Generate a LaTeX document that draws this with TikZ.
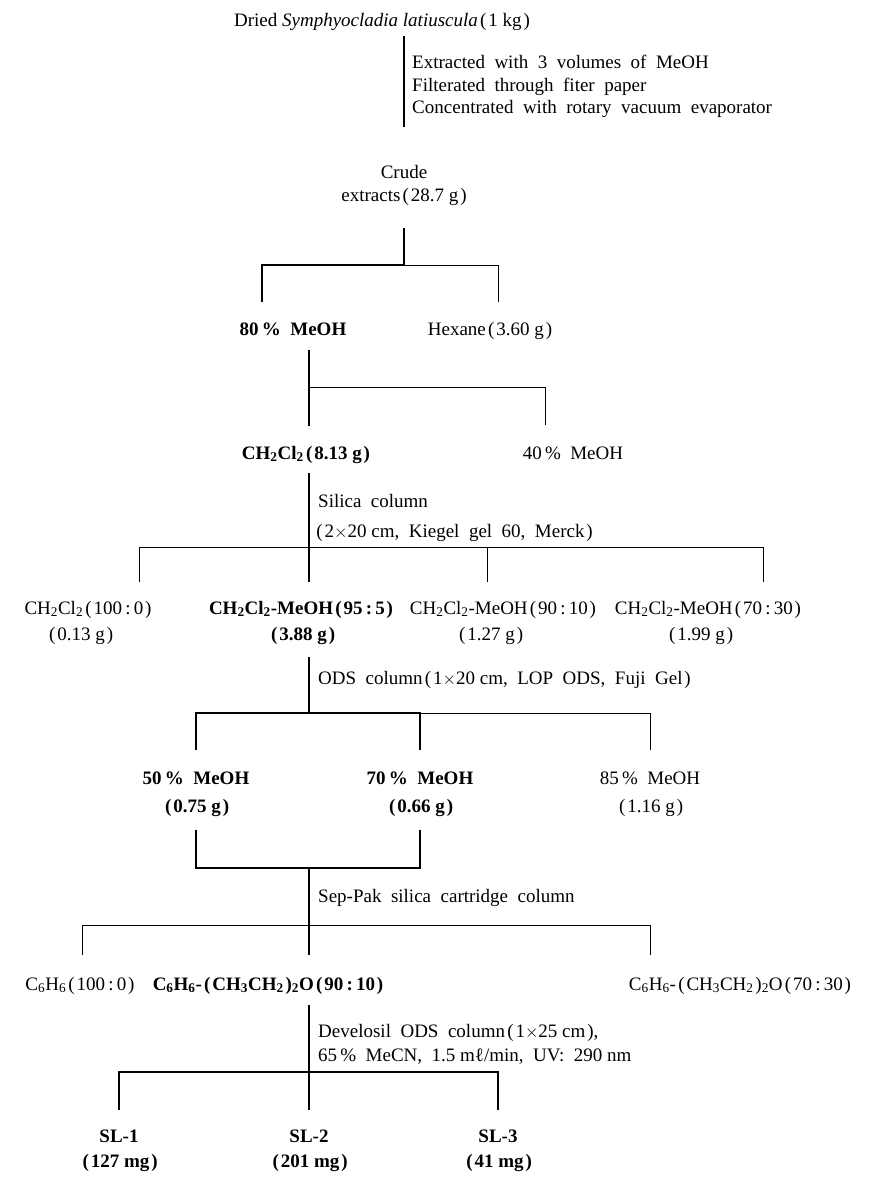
\documentclass[tikz,border=0pt]{standalone}
\usepackage{fontspec}
\setmainfont{Liberation Serif}
\newcommand\lp{\kern0.12em(\kern0.1em}
\newcommand\rp{\kern0.1em)}
\newcommand\sub[1]{\textsubscript{#1}}
\tikzset{
  lbl/.style={font=\fontsize{19}{22}\selectfont, inner sep=0pt, anchor=base},
  bl/.style={lbl, font=\fontsize{19}{22}\selectfont\bfseries},
  note/.style={lbl, anchor=base west, align=left},
  thk/.style={line width=2.2pt},
  thn/.style={line width=1pt},
}
\begin{document}
\begin{tikzpicture}[x=1pt,y=-1pt]
\useasboundingbox (0,0) rectangle (880,1182);
% title
\node[lbl] (title) at (382,27) {Dried\ \textit{Symphyocladia\ latiuscula}\lp 1 kg\rp};
\coordinate (a1) at (404,36);
\coordinate (a2) at (404,127);
\draw[thk] (a1) -- (a2);
\node[note] (s1) at (412,69) {Extracted\ \ with\ \ 3\ \ volumes\ \ of\ \ MeOH};
\node[note] (s2) at (412,92) {Filterated\ \ through\ \ fiter\ \ paper};
\node[note] (s3) at (412,114) {Concentrated\ \ with\ \ rotary\ \ vacuum\ \ evaporator};
% crude
\node[lbl] (crude) at (404,179) {Crude};
\node[lbl] (crude2) at (404,202) {extracts\lp 28.7 g\rp};
\coordinate (b0) at (404,228);
\coordinate (b1) at (404,265);
\coordinate (bL) at (262,265);
\coordinate (bR) at (498,265);
\coordinate (bLd) at (262,302);
\coordinate (bRd) at (498,302);
\draw[thk] (b0) -- (b1) -- (bL) -- (bLd);
\draw[thn] (b1) -- (bR) -- (bRd);
\node[bl] (m80) at (293,335) {80\,\%\ \ MeOH};
\node[lbl] (hex) at (490,335) {Hexane\lp 3.60 g\rp};
% partition 2
\coordinate (c0) at (309,350);
\coordinate (c1) at (309,387);
\coordinate (c2) at (309,426);
\coordinate (cR) at (545,387);
\coordinate (cRd) at (545,425);
\draw[thk] (c0) -- (c2);
\draw[thn] (c1) -- (cR) -- (cRd);
\node[bl] (dcm) at (306,459) {CH\sub{2}Cl\sub{2}\lp 8.13 g\rp};
\node[lbl] (m40) at (573,459) {40\,\%\ \ MeOH};
% silica column
\coordinate (d0) at (309,473);
\coordinate (d1) at (309,547);
\coordinate (d2) at (309,582);
\draw[thk] (d0) -- (d2);
\node[note] (sil1) at (318,507) {Silica\ \ column};
\node[note] (sil2) at (314,537) {\lp 2$\times$20 cm,\ \ Kiegel\ \ gel\ \ 60,\ \ Merck\rp};
\coordinate (dA) at (139,547);
\coordinate (dAd) at (139,582);
\coordinate (dC) at (487,547);
\coordinate (dCd) at (487,582);
\coordinate (dD) at (763,547);
\coordinate (dDd) at (763,582);
\draw[thn] (dAd) -- (dA) -- (dD) -- (dDd);
\draw[thn] (dC) -- (dCd);
\node[lbl] (f1a) at (88,614) {CH\sub{2}Cl\sub{2}\lp 100\,:\,0\rp};
\node[lbl] (f1b) at (80,640) {\lp 0.13 g\rp};
\node[bl] (f2a) at (301,614) {CH\sub{2}Cl\sub{2}-MeOH\lp 95\,:\,5\rp};
\node[bl] (f2b) at (302,640) {\lp 3.88 g\rp};
\node[lbl] (f3a) at (503,614) {CH\sub{2}Cl\sub{2}-MeOH\lp 90\,:\,10\rp};
\node[lbl] (f3b) at (490,640) {\lp 1.27 g\rp};
\node[lbl] (f4a) at (708,614) {CH\sub{2}Cl\sub{2}-MeOH\lp 70\,:\,30\rp};
\node[lbl] (f4b) at (700,640) {\lp 1.99 g\rp};
% ODS column
\coordinate (e0) at (309,657);
\coordinate (e1) at (309,713);
\draw[thk] (e0) -- (e1);
\node[note] (ods) at (318,684) {ODS\ \ column\lp 1$\times$20 cm,\ \ LOP\ \ ODS,\ \ Fuji\ \ Gel\rp};
\coordinate (eA) at (196,713);
\coordinate (eAd) at (196,750);
\coordinate (eB) at (420,713);
\coordinate (eBd) at (420,750);
\coordinate (eC) at (650,713);
\coordinate (eCd) at (650,750);
\draw[thk] (eAd) -- (eA) -- (eB) -- (eBd);
\draw[thn] (eB) -- (eC) -- (eCd);
\node[bl] (g1a) at (196,784) {50\,\%\ \ MeOH};
\node[bl] (g1b) at (196,812) {\lp 0.75 g\rp};
\node[bl] (g2a) at (420,784) {70\,\%\ \ MeOH};
\node[bl] (g2b) at (420,812) {\lp 0.66 g\rp};
\node[lbl] (g3a) at (650,784) {85\,\%\ \ MeOH};
\node[lbl] (g3b) at (650,812) {\lp 1.16 g\rp};
% combine
\coordinate (h1) at (196,830);
\coordinate (h1d) at (196,868);
\coordinate (h2) at (420,830);
\coordinate (h2d) at (420,868);
\coordinate (h0) at (309,868);
\coordinate (h3) at (309,925);
\coordinate (h4) at (309,955);
\draw[thk] (h1) -- (h1d) -- (h2d) -- (h2);
\draw[thk] (h0) -- (h4);
\node[note] (sep) at (318,902) {Sep-Pak\ \ silica\ \ cartridge\ \ column};
\coordinate (iA) at (82,925);
\coordinate (iAd) at (82,955);
\coordinate (iC) at (650,925);
\coordinate (iCd) at (650,955);
\draw[thn] (iAd) -- (iA) -- (iC) -- (iCd);
\node[lbl] (j1) at (80,990) {C\sub{6}H\sub{6}\lp 100\,:\,0\rp};
\node[bl] (j2) at (268,990) {C\sub{6}H\sub{6}-\lp CH\sub{3}CH\sub{2}\rp\sub{2}O\lp 90\,:\,10\rp};
\node[lbl] (j3) at (740,990) {C\sub{6}H\sub{6}-\lp CH\sub{3}CH\sub{2}\rp\sub{2}O\lp 70\,:\,30\rp};
% HPLC
\coordinate (k0) at (309,1005);
\coordinate (k1) at (309,1072);
\coordinate (k2) at (309,1110);
\draw[thk] (k0) -- (k2);
\node[note] (dev1) at (318,1037) {Develosil\ \ ODS\ \ column\lp 1$\times$25 cm\rp,};
\node[note] (dev2) at (318,1061) {65\,\%\ \ MeCN,\ \ 1.5 mℓ/min,\ \ UV:\ \ 290 nm};
\coordinate (kA) at (119,1072);
\coordinate (kAd) at (119,1110);
\coordinate (kC) at (498,1072);
\coordinate (kCd) at (498,1110);
\draw[thk] (kAd) -- (kA) -- (kC) -- (kCd);
\node[bl] (sl1) at (119,1142) {SL-1};
\node[bl] (sl1m) at (119,1167) {\lp 127 mg\rp};
\node[bl] (sl2) at (309,1142) {SL-2};
\node[bl] (sl2m) at (309,1167) {\lp 201 mg\rp};
\node[bl] (sl3) at (498,1142) {SL-3};
\node[bl] (sl3m) at (498,1167) {\lp 41 mg\rp};
\end{tikzpicture}
\end{document}
